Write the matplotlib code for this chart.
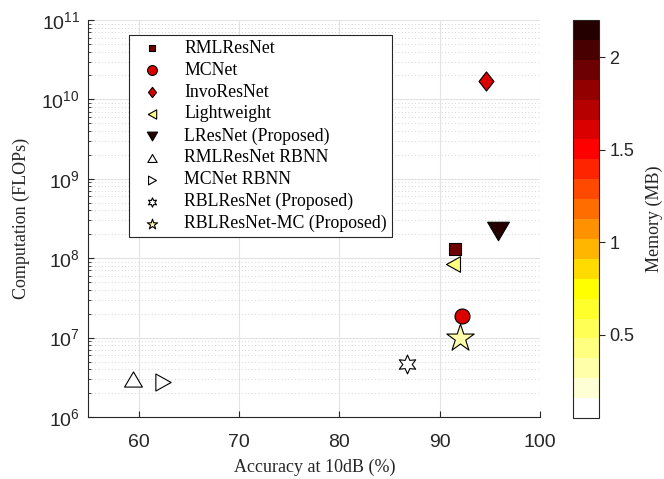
import numpy as np
import matplotlib
matplotlib.use("Agg")
import matplotlib.pyplot as plt
from matplotlib.colors import ListedColormap
from matplotlib.path import Path
from matplotlib.ticker import LogLocator, LogFormatterMathtext, NullFormatter

# data
models = ["RMLResNet", "MCNet", "InvoResNet", "Lightweight", "LResNet (Proposed)",
          "RMLResNet RBNN", "MCNet RBNN", "RBLResNet (Proposed)", "RBLResNet-MC (Proposed)"]
accuracy = [91.5, 92.25, 94.6, 91.3, 95.8, 59.5, 62.4, 86.7, 92.0]
flops = [1.29e8, 1.88e7, 1.72e10, 8.5e7, 2.17e8, 3.0e6, 2.74e6, 4.7e6, 1.0e7]
memory = [1.93, 1.6, 1.6, 0.42, 2.15, 0.06, 0.06, 0.07, 0.32]

# marker shapes (MATLAB-like)
diamond = Path([(0, 1), (0.78, 0), (0, -1), (-0.78, 0), (0, 1)], closed=True)
tri_down = Path([(-1, 0.85), (1, 0.85), (0, -0.85), (-1, 0.85)], closed=True)
tri_up = Path([(-1, -0.85), (1, -0.85), (0, 0.85), (-1, -0.85)], closed=True)
tri_left = Path([(0.9, 1), (0.9, -1), (-0.9, 0), (0.9, 1)], closed=True)
tri_right = Path([(-0.9, 1), (-0.9, -1), (0.9, 0), (-0.9, 1)], closed=True)
markers = ["s", "o", diamond, tri_left, tri_down, tri_up, tri_right, (6, 1, 0), "*"]
sizes = [74, 117, 190, 125, 245, 165, 150, 185, 430]

# MATLAB flipud(hot(20))
m = 20
n = int(3 / 8 * m)
r = np.concatenate([np.arange(1, n + 1) / n, np.ones(m - n)])
g = np.concatenate([np.zeros(n), np.arange(1, n + 1) / n, np.ones(m - 2 * n)])
b = np.concatenate([np.zeros(2 * n), np.arange(1, m - 2 * n + 1) / (m - 2 * n)])
cmap = ListedColormap(np.column_stack([r, g, b])[::-1])
vmin, vmax = 0.05, 2.2

plt.rcParams["font.family"] = ["Liberation Sans", "DejaVu Sans"]
plt.rcParams["mathtext.fontset"] = "custom"
plt.rcParams["mathtext.rm"] = "Liberation Sans"
plt.rcParams["mathtext.it"] = "Liberation Sans"
serif = "Liberation Serif"
dark = "#262626"

fig = plt.figure(figsize=(6.64, 4.79), dpi=100)
ax = fig.add_axes([88.3 / 664, 62 / 479, 452 / 664, 397 / 479])

for i in range(len(models)):
    sc = ax.scatter(accuracy[i], flops[i], c=[memory[i]], cmap=cmap, vmin=vmin, vmax=vmax,
                    marker=markers[i], s=sizes[i], edgecolors="black", linewidths=0.8,
                    label=models[i], zorder=3)

ax.set_xlim(55, 100)
ax.set_yscale("log")
ax.set_ylim(1e6, 1e11)
ax.set_xticks([60, 70, 80, 90, 100])
ax.yaxis.set_major_locator(LogLocator(base=10, numticks=10))
ax.yaxis.set_major_formatter(LogFormatterMathtext())
ax.yaxis.set_minor_locator(LogLocator(base=10, subs=np.arange(2, 10), numticks=20))
ax.yaxis.set_minor_formatter(NullFormatter())

ax.grid(True, which="major", color="#e3e3e3", linewidth=0.8, zorder=0)
ax.grid(True, which="minor", axis="y", color="#c8c8c8", linestyle=(0, (1, 3)), linewidth=0.6, zorder=0)
ax.set_axisbelow(True)

for side in ["top", "right"]:
    ax.spines[side].set_visible(False)
for side in ["left", "bottom"]:
    ax.spines[side].set_color(dark)
    ax.spines[side].set_linewidth(0.8)
ax.tick_params(which="both", direction="in", colors=dark, labelsize=14)
ax.tick_params(which="major", length=4)
ax.tick_params(which="minor", length=2)
ax.tick_params(axis="x", pad=12)
ax.tick_params(axis="y", pad=6)

ax.set_xlabel("Accuracy at 10dB (%)", family=serif, fontsize=13, color=dark, labelpad=6)
ax.set_ylabel("Computation (FLOPs)", family=serif, fontsize=13, color=dark, labelpad=8)

leg = ax.legend(loc="upper left", bbox_to_anchor=(0.091, 0.962), prop={"family": serif, "size": 12.8},
                frameon=True, fancybox=False, edgecolor=dark, framealpha=1, labelspacing=0.27,
                handletextpad=0.8, borderpad=0.28, borderaxespad=0, scatterpoints=1)
leg.get_frame().set_linewidth(0.8)
leg_sizes = [25, 50, 55, 45, 55, 45, 40, 45, 60]
for h, s in zip(leg.legend_handles, leg_sizes):
    h.set_sizes([s])

cax = fig.add_axes([573 / 664, 61 / 479, 26 / 664, 398 / 479])
cb = fig.colorbar(sc, cax=cax, ticks=[0.5, 1, 1.5, 2])
cb.ax.set_yticklabels(["0.5", "1", "1.5", "2"])
cb.ax.tick_params(labelsize=13, colors=dark, length=4, direction="out")
cb.outline.set_edgecolor(dark)
cb.outline.set_linewidth(0.8)
cb.set_label("Memory (MB)", family=serif, fontsize=13, color=dark, labelpad=8)

fig.savefig("out.png", dpi=100)
